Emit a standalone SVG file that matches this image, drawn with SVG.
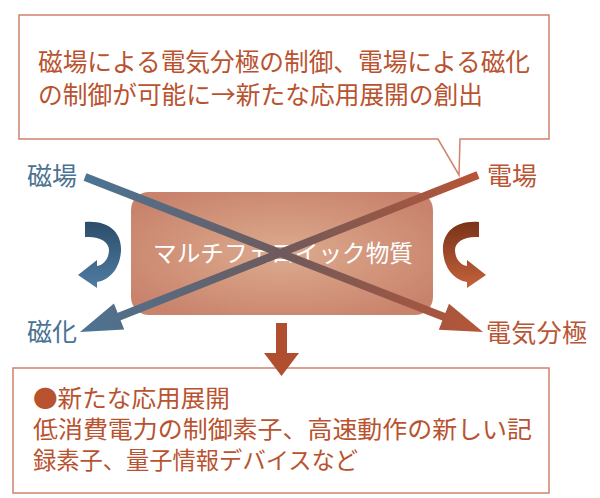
<svg xmlns="http://www.w3.org/2000/svg" width="600" height="498" viewBox="0 0 600 498">
<style>
text{font-family:"Noto Sans CJK JP","Noto Sans CJK SC",sans-serif}
.frame{fill:#fff;stroke:#d0836c;stroke-width:1.5}
.body{fill:#b9532f;font-size:25px}
.body2{fill:#b9532f;font-size:23.5px}
.blue{fill:#4a7292;font-size:25px}
.brown{fill:#b85535;font-size:25px}
</style>
<defs>
<radialGradient id="boxg" cx="50%" cy="50%" r="60%">
<stop offset="0" stop-color="#dcab8f"/>
<stop offset="1" stop-color="#c9836c"/>
</radialGradient>
<linearGradient id="lineA" gradientUnits="userSpaceOnUse" x1="85" y1="177" x2="483" y2="332">
<stop offset="0" stop-color="#4b7494"/>
<stop offset="0.5" stop-color="#6e5a5c"/>
<stop offset="1" stop-color="#b85536"/>
</linearGradient>
<linearGradient id="lineB" gradientUnits="userSpaceOnUse" x1="478" y1="175" x2="80" y2="332">
<stop offset="0" stop-color="#b85536"/>
<stop offset="0.5" stop-color="#6e5a5c"/>
<stop offset="1" stop-color="#4b7494"/>
</linearGradient>
<linearGradient id="curveBlue" x1="0" y1="0" x2="0" y2="1">
<stop offset="0" stop-color="#2c4d69"/>
<stop offset="1" stop-color="#4f7ca3"/>
</linearGradient>
<linearGradient id="curveBrown" x1="0" y1="0" x2="0" y2="1">
<stop offset="0" stop-color="#7a3318"/>
<stop offset="1" stop-color="#c4623c"/>
</linearGradient>
<path id="curl" d="M85,222 C108,220 122,232 121,251 C120,268 110,280 97,282 L97,288 L78,275 L97,260 L97,266 C104,265 109,258 109,250 C109,242 100,236 85,237 Z"/>
</defs>
<rect width="600" height="498" fill="#fff"/>

<g id="callout">
<path class="frame" d="M19,15 H549 V139 H460 L459,175 L438,139 H19 Z"/>
<text class="body" x="38" y="71" textLength="492" lengthAdjust="spacingAndGlyphs">磁場による電気分極の制御、電場による磁化</text>
<text class="body" x="38" y="104" textLength="445" lengthAdjust="spacingAndGlyphs">の制御が可能に→新たな応用展開の創出</text>
</g>

<g id="material">
<rect x="131" y="192" width="302" height="123" rx="18" fill="url(#boxg)"/>
<text x="153" y="262" fill="#fff" font-size="23.6" textLength="260" lengthAdjust="spacingAndGlyphs">マルチフェロイック物質</text>
</g>

<g id="label-jiba"><text class="blue" x="27" y="185">磁場</text></g>
<g id="label-denba"><text class="brown" x="487" y="185">電場</text></g>
<g id="label-jika"><text class="blue" x="27" y="341">磁化</text></g>
<g id="label-denki"><text class="brown" x="486" y="342" textLength="101">電気分極</text></g>

<g id="applications">
<rect class="frame" x="13" y="368" width="536" height="125"/>
<text class="body2" x="33" y="406.5" textLength="197" lengthAdjust="spacingAndGlyphs">●新たな応用展開</text>
<text class="body2" x="33" y="438" textLength="499" lengthAdjust="spacingAndGlyphs">低消費電力の制御素子、高速動作の新しい記</text>
<text class="body2" x="33" y="469" textLength="325" lengthAdjust="spacingAndGlyphs">録素子、量子情報デバイスなど</text>
</g>

<g id="connectors">
<line x1="85" y1="177" x2="445" y2="317.3" stroke="url(#lineA)" stroke-width="8"/>
<polygon points="483,332 438.8,329.8 449,303.7" fill="url(#lineA)"/>
<line x1="478" y1="175" x2="118" y2="317" stroke="url(#lineB)" stroke-width="8"/>
<polygon points="80,332 124.2,329.6 113.9,303.6" fill="url(#lineB)"/>
<use href="#curl" fill="url(#curveBlue)"/>
<use href="#curl" fill="url(#curveBrown)" transform="translate(564,0) scale(-1,1)"/>
<polygon points="276,323 287,323 287,353 299,353 281.5,376 264,353 276,353" fill="#b04e30"/>
</g>
</svg>
